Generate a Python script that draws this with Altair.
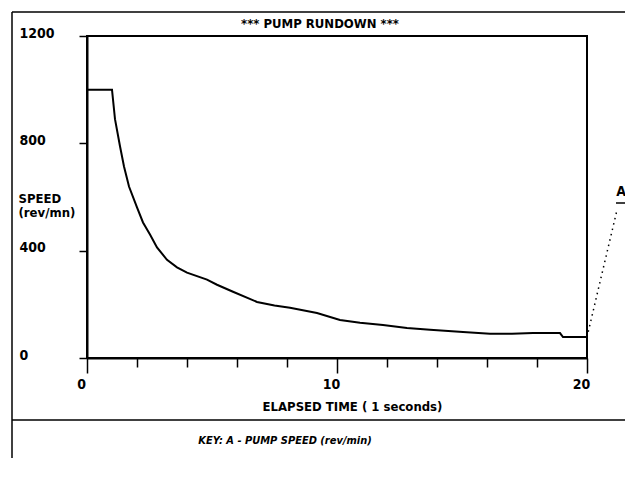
import altair as alt
import pandas as pd

# ---- data ----
time_s = [0, 1.0, 1.12, 1.32, 1.48, 1.68, 2.0, 2.24, 2.52, 2.8, 3.2, 3.6, 4.0, 4.8,
          5.2, 5.84, 6.8, 7.5, 8.12, 9.2, 10.12, 10.92, 11.84, 12.8, 13.72, 15.04,
          16.12, 17.0, 17.84, 18.92, 19.04, 20.0]
speed = [1000, 1000, 890, 789, 714, 639, 561, 505, 460, 412, 366, 338, 318, 292,
         273, 247, 209, 196, 187, 168, 142, 131, 123, 112, 105, 97,
         90, 90, 93, 93, 78, 78]

x_ticks = list(range(0, 21))
y_ticks = [0, 400, 800, 1200]
title_text = "*** PUMP RUNDOWN ***"
x_title = "ELAPSED TIME ( 1 seconds)"
y_title = ["SPEED", "(rev/mn)"]
key_text = "KEY:  A - PUMP SPEED (rev/min)"
series_label = "A"

FONT = "DejaVu Sans Condensed, Liberation Sans Narrow, sans-serif"

df = pd.DataFrame({"t": time_s, "v": speed})
one = pd.DataFrame({"k": [0]})

x_scale = alt.Scale(domain=[0, 20], nice=False)
y_scale = alt.Scale(domain=[0, 1200], nice=False)

line = alt.Chart(df).mark_line(color="black", strokeWidth=2).encode(
    x=alt.X("t:Q", scale=x_scale,
            axis=alt.Axis(values=x_ticks, title=x_title, grid=False,
                          tickSize={"condition": {"test": "datum.value % 10 === 0", "value": 15}, "value": 9},
                          tickWidth=1.5, tickColor="black",
                          domainColor="black", domainWidth=2,
                          labelExpr="datum.value % 10 === 0 ? datum.label : ''",
                          labelFlush=False, labelOffset=-6, labelPadding=4,
                          labelFont=FONT, labelFontSize=14, labelFontWeight="bold",
                          labelColor="black",
                          titleFont=FONT, titleFontSize=13, titleFontWeight="bold",
                          titleColor="black", titleX=265, titleY=48,
                          titleAlign="center", titleBaseline="middle", titleAnchor="start")),
    y=alt.Y("v:Q", scale=y_scale,
            axis=alt.Axis(values=y_ticks, title=y_title, grid=False, format="d",
                          tickSize=8, tickWidth=1.5, tickColor="black",
                          domainColor="black", domainWidth=2,
                          labelAlign="left", labelPadding=60, labelBaseline="middle",
                          labelOffset=-3, labelFlush=False,
                          labelFont=FONT, labelFontSize=14, labelFontWeight="bold",
                          labelColor="black",
                          titleFont=FONT, titleFontSize=13, titleFontWeight="bold",
                          titleColor="black", titleAngle=0, titleAlign="left",
                          titleBaseline="top", titleX=-69, titleY=156,
                          titleLineHeight=14, titleAnchor="start")),
)

# leader line from the end of the series to its label
last = pd.DataFrame({"t": [time_s[-1]], "v": [speed[-1]]})
leader = alt.Chart(last).mark_rule(color="black", strokeWidth=1.5, strokeDash=[1.5, 4]).encode(
    x=alt.X("t:Q", scale=x_scale), y=alt.Y("v:Q", scale=y_scale),
    x2=alt.value(530), y2=alt.value(174))

label_a = alt.Chart(pd.DataFrame({"s": [series_label]})).mark_text(
    font=FONT, fontSize=14, fontWeight="bold", color="black", align="center", baseline="middle"
).encode(text="s:N", x=alt.value(534), y=alt.value(156))
label_ul = alt.Chart(one).mark_rule(color="black", strokeWidth=1.5).encode(
    x=alt.value(529), x2=alt.value(538), y=alt.value(167))

title = alt.Chart(pd.DataFrame({"s": [title_text]})).mark_text(
    font=FONT, fontSize=13, fontWeight="bold", color="black", align="center", baseline="middle"
).encode(text="s:N", x=alt.value(233), y=alt.value(-12))

key = alt.Chart(pd.DataFrame({"s": [key_text]})).mark_text(
    font=FONT, fontSize=11, fontStyle="italic", fontWeight="bold", color="black",
    align="center", baseline="middle"
).encode(text="s:N", x=alt.value(198), y=alt.value(405))

# outer printout frame
top_rule = alt.Chart(one).mark_rule(color="black", strokeWidth=1.5).encode(
    x=alt.value(-75), x2=alt.value(538), y=alt.value(-24))
left_rule = alt.Chart(one).mark_rule(color="black", strokeWidth=1.5).encode(
    x=alt.value(-75), y=alt.value(-24), y2=alt.value(440))
sep_rule = alt.Chart(one).mark_rule(color="black", strokeWidth=1.5).encode(
    x=alt.value(-75), x2=alt.value(538), y=alt.value(384))

chart = alt.layer(line, leader, label_a, label_ul, title, key, top_rule, left_rule, sep_rule).properties(
    width=500, height=322,
    autosize="none",
    padding={"left": 79, "top": 28, "right": 38, "bottom": 100},
    background="white",
).configure_view(stroke="black", strokeWidth=2)

chart.save("out.html", embed_options={"renderer": "svg", "actions": False})
